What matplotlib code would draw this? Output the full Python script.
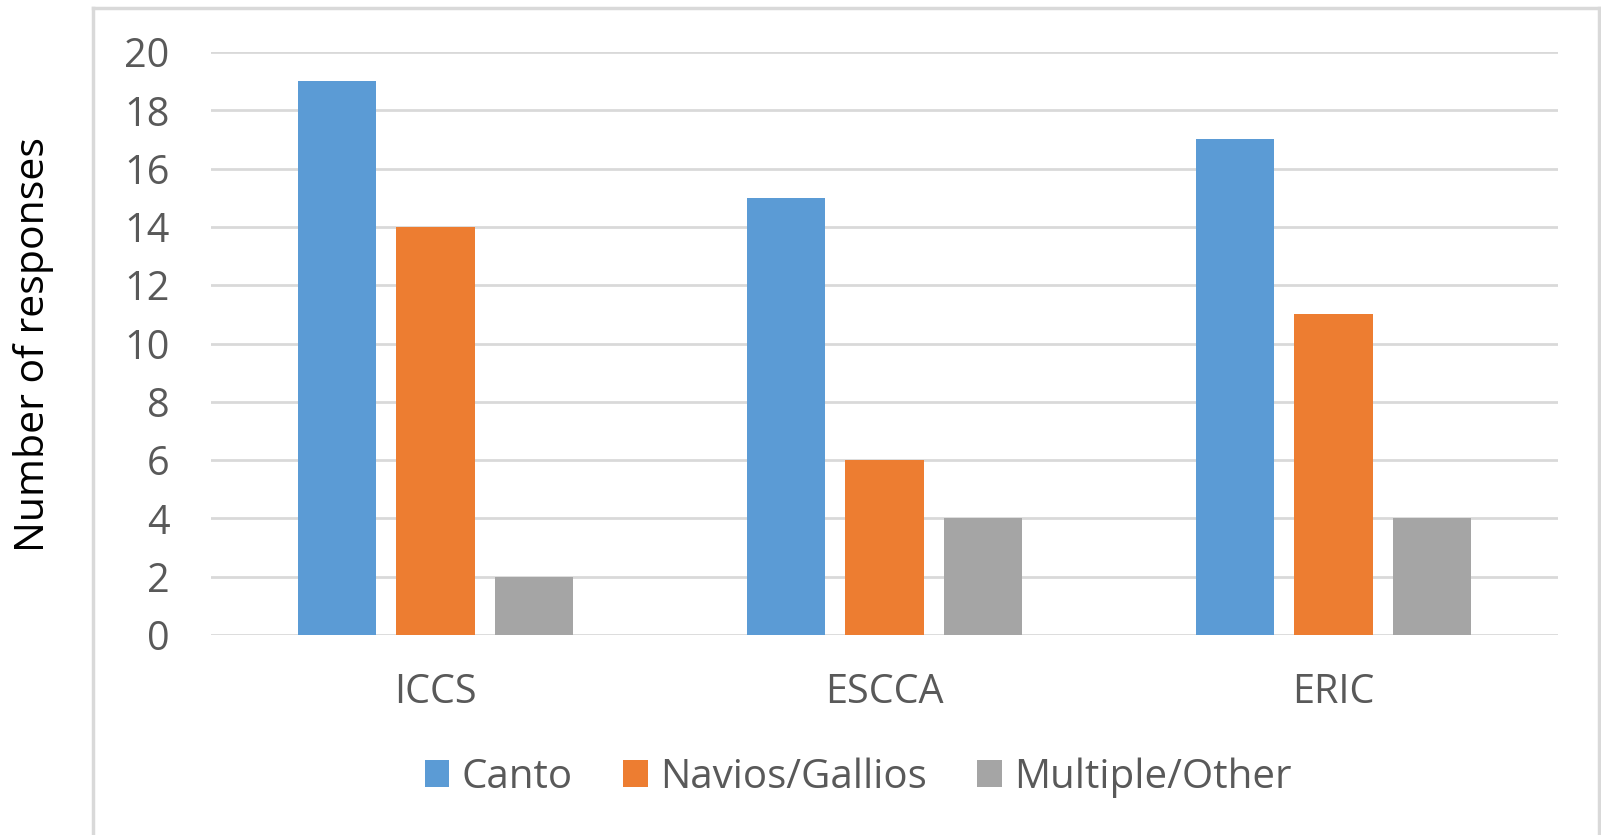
import numpy as np
import matplotlib.pyplot as plt
from matplotlib.lines import Line2D

# Dados
categorias = ['ICCS', 'ESCCA', 'ERIC']
canto = [19, 15, 17]
navios_gallios = [14, 6, 11]
multiple_other = [2, 4, 4]
series_nomes = ['Canto', 'Navios/Gallios', 'Multiple/Other']
cores = ['#5B9BD5', '#ED7D31', '#A5A5A5']

plt.rcParams['font.family'] = ['Open Sans', 'DejaVu Sans']

fig = plt.figure(figsize=(16.01, 8.35), dpi=100)
ax = fig.add_axes([0.1318, 0.2395, 0.8413, 0.6982])

x = np.arange(len(categorias))
largura = 0.174
passo = 0.22
for i, (vals, nome, cor) in enumerate(zip([canto, navios_gallios, multiple_other], series_nomes, cores)):
    ax.bar(x + (i - 1) * passo, vals, largura, color=cor, label=nome, zorder=3)

ax.set_xlim(-0.5, 2.5)
ax.set_ylim(0, 20)
ax.set_yticks(range(0, 21, 2))
ax.set_xticks(x)
ax.set_xticklabels(categorias)
ax.yaxis.grid(True, color='#D9D9D9', linewidth=2, zorder=0)
ax.set_axisbelow(True)
for s in ax.spines.values():
    s.set_visible(False)
ax.tick_params(axis='both', length=0, labelsize=28.5, labelcolor='#595959')
ax.tick_params(axis='y', pad=30)
ax.tick_params(axis='x', pad=27)

fig.text(0.021, 0.588, 'Number of responses', rotation=90, fontsize=29.5,
         va='center', ha='center', color='black')

leg = fig.legend(loc='center', bbox_to_anchor=(0.536, 0.069), ncol=3, frameon=False,
                 fontsize=29, handlelength=0.62, handleheight=0.62, handletextpad=0.3,
                 columnspacing=1.25, labelcolor='#595959')

# moldura do gráfico
borda = '#D9D9D9'
fig.add_artist(Line2D([0.058, 0.058], [0.0, 0.99], color=borda, lw=2.5, transform=fig.transFigure))
fig.add_artist(Line2D([0.058, 0.999], [0.99, 0.99], color=borda, lw=2.5, transform=fig.transFigure))
fig.add_artist(Line2D([0.999, 0.999], [0.0, 0.99], color=borda, lw=2.5, transform=fig.transFigure))

fig.savefig('out.png', dpi=100)
